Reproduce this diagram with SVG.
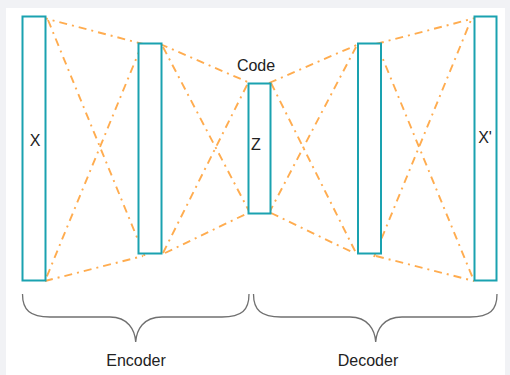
<svg xmlns="http://www.w3.org/2000/svg" width="510" height="375" viewBox="0 0 510 375">
<style>
.bg{fill:#f1f2f5}
.panel{fill:#ffffff}
.node rect{fill:#ffffff;stroke:#1aa2b0;stroke-width:2}
.lbl{font-family:"Liberation Sans",Arial,sans-serif;font-size:16px;fill:#222222;text-anchor:middle}
.conn line{stroke:#ffac4f;stroke-width:1.9;stroke-dasharray:8 5 2 5;fill:none}
.brace{fill:none;stroke:#707070;stroke-width:1.3}
</style>
<rect class="bg" x="0" y="0" width="510" height="375"/>
<rect class="panel" x="6" y="8" width="499" height="367"/>
<g id="connectors" class="conn">
<line x1="40" y1="17" x2="143" y2="44"/>
<line x1="48" y1="20" x2="145" y2="257"/>
<line x1="141" y1="47" x2="45" y2="281"/>
<line x1="45" y1="281" x2="143" y2="256"/>
<line x1="160" y1="44" x2="250" y2="83"/>
<line x1="163" y1="47" x2="250" y2="213"/>
<line x1="163" y1="253" x2="248" y2="83"/>
<line x1="165" y1="253" x2="248" y2="213"/>
<line x1="269" y1="83" x2="359" y2="44"/>
<line x1="269" y1="213" x2="356" y2="47"/>
<line x1="271" y1="83" x2="356" y2="253"/>
<line x1="271" y1="213" x2="354" y2="253"/>
<line x1="376" y1="44" x2="479" y2="17"/>
<line x1="374" y1="257" x2="471" y2="20"/>
<line x1="378" y1="47" x2="474" y2="281"/>
<line x1="376" y1="256" x2="474" y2="281"/>
</g>
<g id="node-x" class="node">
<rect x="22.5" y="16.5" width="23" height="264"/>
<text class="lbl" x="35" y="146">X</text>
</g>
<g id="node-enc-hidden" class="node">
<rect x="138.5" y="43.5" width="23" height="210"/>
</g>
<g id="node-z" class="node">
<rect x="248.5" y="83.5" width="22" height="130"/>
<text class="lbl" x="256" y="150">Z</text>
</g>
<g id="node-dec-hidden" class="node">
<rect x="358" y="43.5" width="23" height="210"/>
</g>
<g id="node-xprime" class="node">
<rect x="474.5" y="16.5" width="22" height="264"/>
<text class="lbl" x="485" y="143">X'</text>
</g>
<g id="label-code">
<text class="lbl" x="256" y="71">Code</text>
</g>
<g id="brace-encoder">
<path class="brace" d="M22.5,294 C22.5,310 30,317 50,317 L110,317 C128,317 135,330 135.7,342 C136.5,330 143,317 162,317 L222,317 C242,317 249,310 249,294"/>
<text class="lbl" x="136" y="366">Encoder</text>
</g>
<g id="brace-decoder">
<path class="brace" d="M253.5,294 C253.5,310 261,317 281,317 L350,317 C368,317 375,330 375.7,342 C376.5,330 383,317 402,317 L470,317 C490,317 497,310 497,294"/>
<text class="lbl" x="368" y="366">Decoder</text>
</g>
</svg>
